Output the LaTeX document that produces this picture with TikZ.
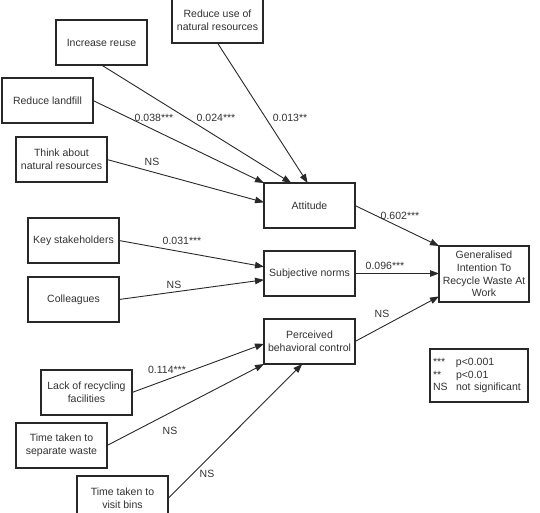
\documentclass[tikz,border=0pt]{standalone}
\usepackage{fontspec}
\setmainfont{Liberation Sans}
\usepackage{tikz}
\usetikzlibrary{arrows.meta,positioning,calc}
\definecolor{lineGray}{RGB}{40,40,40}
\definecolor{textGray}{RGB}{50,50,50}
\newcommand{\boxfont}{\fontsize{10.5}{12.8}\selectfont}
\tikzset{
  box/.style={draw=lineGray, line width=1.3pt, fill=white, align=center, text=textGray, outer sep=0pt,
              minimum width=91pt, minimum height=45pt, inner sep=2pt, font=\boxfont, anchor=north west},
  legendbox/.style={box, minimum width=98pt, minimum height=53pt, text width=92pt, align=left, inner sep=3pt},
  arrow/.style={-{Triangle[length=9pt,width=6.5pt]}, line width=0.9pt, draw=lineGray},
  coef/.style={font=\boxfont, text=textGray, inner sep=1pt}
}

\begin{document}
\begin{tikzpicture}[x=1pt, y=-1pt]
\useasboundingbox (0,0) rectangle (540,512);
% predictors of attitude
\node[box] (reduseres) at (172,-2) {Reduce use of\\natural resources};
\node[box] (increuse) at (56,20) {Increase reuse};
\node[box] (redland) at (2,78) {Reduce landfill};
\node[box] (thinkres) at (16,137) {Think about\\natural resources};
% norms and control predictors
\node[box] (keystake) at (28,218) {Key stakeholders};
\node[box, below=14pt of keystake.south west, anchor=north west] (colleag) {Colleagues};
\node[box] (lackfac) at (41,370) {Lack of recycling\\facilities};
\node[box] (septime) at (16,423) {Time taken to\\separate waste};
\node[box] (binstime) at (77,476) {Time taken to\\visit bins};
% constructs
\node[box] (attitude) at (264,183) {Attitude};
\node[box, below=23pt of attitude.south west, anchor=north west] (subnorms) {Subjective norms};
\node[box, below=23pt of subnorms.south west, anchor=north west] (pbc) {Perceived\\behavioral control};
\node[box, minimum width=90pt, minimum height=56pt] (intent) at (439,246)
  {Generalised\\Intention To\\Recycle Waste At\\Work};
% legend
\node[legendbox] (legend) at (430,349)
  {\makebox[23pt][l]{***}p<0.001\\\makebox[23pt][l]{**}p<0.01\\\makebox[23pt][l]{NS}not significant};

% paths into attitude
\draw[arrow] (reduseres.south) -- ($(attitude.north west)!0.48!(attitude.north east)$);
\draw[arrow] (increuse.south) -- ($(attitude.north west)!0.3!(attitude.north east)$);
\draw[arrow] (redland.east) -- (attitude.north west);
\draw[arrow] (thinkres.east) -- ($(attitude.north west)!0.43!(attitude.south west)$);
% paths into subjective norms
\draw[arrow] (keystake.east) -- ($(subnorms.north west)!0.35!(subnorms.south west)$);
\draw[arrow] (colleag.east) -- ($(subnorms.north west)!0.64!(subnorms.south west)$);
% paths into perceived behavioral control
\draw[arrow] (lackfac.east) -- ($(pbc.north west)!0.55!(pbc.south west)$);
\draw[arrow] (septime.east) -- (pbc.south west);
\draw[arrow] (binstime.east) -- ($(pbc.south west)!0.42!(pbc.south east)$);
% paths into intention
\draw[arrow] (attitude.east) -- (intent.north west);
\draw[arrow] (subnorms.east) -- (subnorms.east -| intent.west);
\draw[arrow] (pbc.east) -- ($(intent.south west)!0.1!(intent.north west)$);

% coefficients
\node[coef] (c-land) at (154,118) {0.038***};
\node[coef] (c-reuse) at (216,118) {0.024***};
\node[coef] (c-res) at (290,118) {0.013**};
\node[coef] (c-think) at (152,162) {NS};
\node[coef] (c-att) at (400,216) {0.602***};
\node[coef] (c-sn) at (385,266) {0.096***};
\node[coef] (c-pbc) at (382,314) {NS};
\node[coef] (c-key) at (182,241) {0.031***};
\node[coef] (c-col) at (174,285) {NS};
\node[coef] (c-lack) at (167,370) {0.114***};
\node[coef] (c-sep) at (170,431) {NS};
\node[coef] (c-bins) at (207,474) {NS};
\end{tikzpicture}
\end{document}
